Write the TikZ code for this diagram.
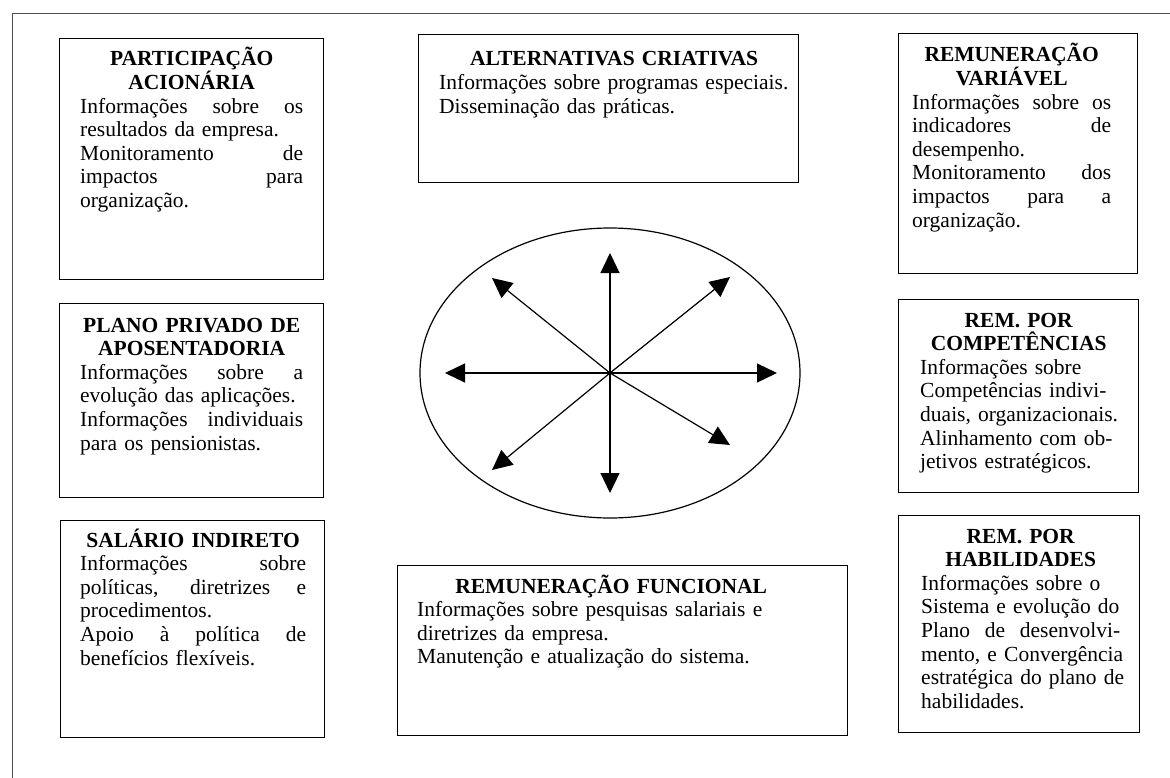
\documentclass[tikz,border=0pt]{standalone}
\usepackage{fontspec}
\setmainfont{Liberation Serif}
\usetikzlibrary{arrows.meta,shapes.geometric}
\newcommand{\fillline}[1]{\makebox[\linewidth][s]{\spaceskip=0pt\xspaceskip=0pt #1}}
\newcommand{\heading}[1]{{\centering\bfseries #1\par}\raggedright}
\begin{document}
\begin{tikzpicture}[x=1pt,y=-1pt,
    panel/.style={draw,line width=1.2pt,anchor=north west,inner sep=0pt},
    info/.style={anchor=base west,inner sep=0pt,
      font=\fontsize{21.5}{23.6}\selectfont},
    spoke/.style={line width=1.2pt,-{Triangle[length=20pt,width=19pt]}}]
  \useasboundingbox (0,0) rectangle (1170,778);
  \draw[black!70,line width=1pt] (12,778) -- (12,14) -- (1170,14);
  % left column
  \node[panel,minimum width=264pt,minimum height=241pt] (acaoBox) at (59,38) {};
  \node[info,text width=223pt] (acao) at (80,66) {\heading{PARTICIPAÇÃO\\ACIONÁRIA}
    \fillline{Informações sobre os}\\ resultados da empresa.\\
    \fillline{Monitoramento de}\\ \fillline{impactos para}\\ organização.};
  \node[panel,minimum width=264pt,minimum height=194pt] (planoBox) at (59,303) {};
  \node[info,text width=223pt] (plano) at (80,332) {\heading{PLANO PRIVADO DE\\APOSENTADORIA}
    \fillline{Informações sobre a}\\ evolução das aplicações.\\
    \fillline{Informações individuais}\\ para os pensionistas.};
  \node[panel,minimum width=264pt,minimum height=217pt] (salarioBox) at (60,520) {};
  \node[info,text width=226pt] (salario) at (80,547) {\heading{SALÁRIO INDIRETO}
    \fillline{Informações sobre}\\ \fillline{políticas, diretrizes e}\\ procedimentos.\\
    \fillline{Apoio à política de}\\ benefícios flexíveis.};
  % middle column
  \node[panel,minimum width=380pt,minimum height=148pt] (criativasBox) at (418,34) {};
  \node[info,text width=350pt] (criativas) at (439,66) {\heading{ALTERNATIVAS CRIATIVAS}
    Informações sobre programas especiais.\\ Disseminação das práticas.};
  \node[panel,minimum width=450pt,minimum height=170pt] (funcionalBox) at (397,565) {};
  \node[info,text width=388pt] (funcional) at (417,593) {\heading{REMUNERAÇÃO FUNCIONAL}
    Informações sobre pesquisas salariais e\\ diretrizes da empresa.\\
    Manutenção e atualização do sistema.};
  % right column
  \node[panel,minimum width=239pt,minimum height=240pt] (variavelBox) at (898,33) {};
  \node[info,text width=199pt] (variavel) at (912,62) {\heading{REMUNERAÇÃO\\VARIÁVEL}
    \fillline{Informações sobre os}\\ \fillline{indicadores de}\\ desempenho.\\
    \fillline{Monitoramento dos}\\ \fillline{impactos para a}\\ organização.};
  \node[panel,minimum width=240pt,minimum height=193pt] (competenciasBox) at (898,299) {};
  \node[info,text width=197pt] (competencias) at (920,327) {\heading{REM. POR\\COMPETÊNCIAS}
    Informações sobre\\ Competências indivi-\\ \mbox{duais, organizacionais.}\\
    Alinhamento com ob-\\ jetivos estratégicos.};
  \node[panel,minimum width=241pt,minimum height=217pt] (habilidadesBox) at (898,515) {};
  \node[info,text width=199pt] (habilidades) at (921,543) {\heading{REM. POR\\HABILIDADES}
    Informações sobre o\\ Sistema e evolução do\\ \fillline{Plano de desenvolvi-}\\
    \mbox{mento, e Convergência}\\ \mbox{estratégica do plano de}\\ habilidades.};
  % centre
  \node[draw,ellipse,line width=1.2pt,minimum width=380pt,minimum height=290pt] (hub) at (610,373) {};
  \coordinate (n) at (610,253);
  \coordinate (ne) at (730,277);
  \coordinate (e) at (777,373);
  \coordinate (se) at (730,445);
  \coordinate (s) at (610,493);
  \coordinate (sw) at (492,470);
  \coordinate (w) at (445,373);
  \coordinate (nw) at (492,278);
  \foreach \tip in {n,ne,e,se,s,sw,w,nw}
    \draw[spoke] (hub.center) -- (\tip);
\end{tikzpicture}
\end{document}
